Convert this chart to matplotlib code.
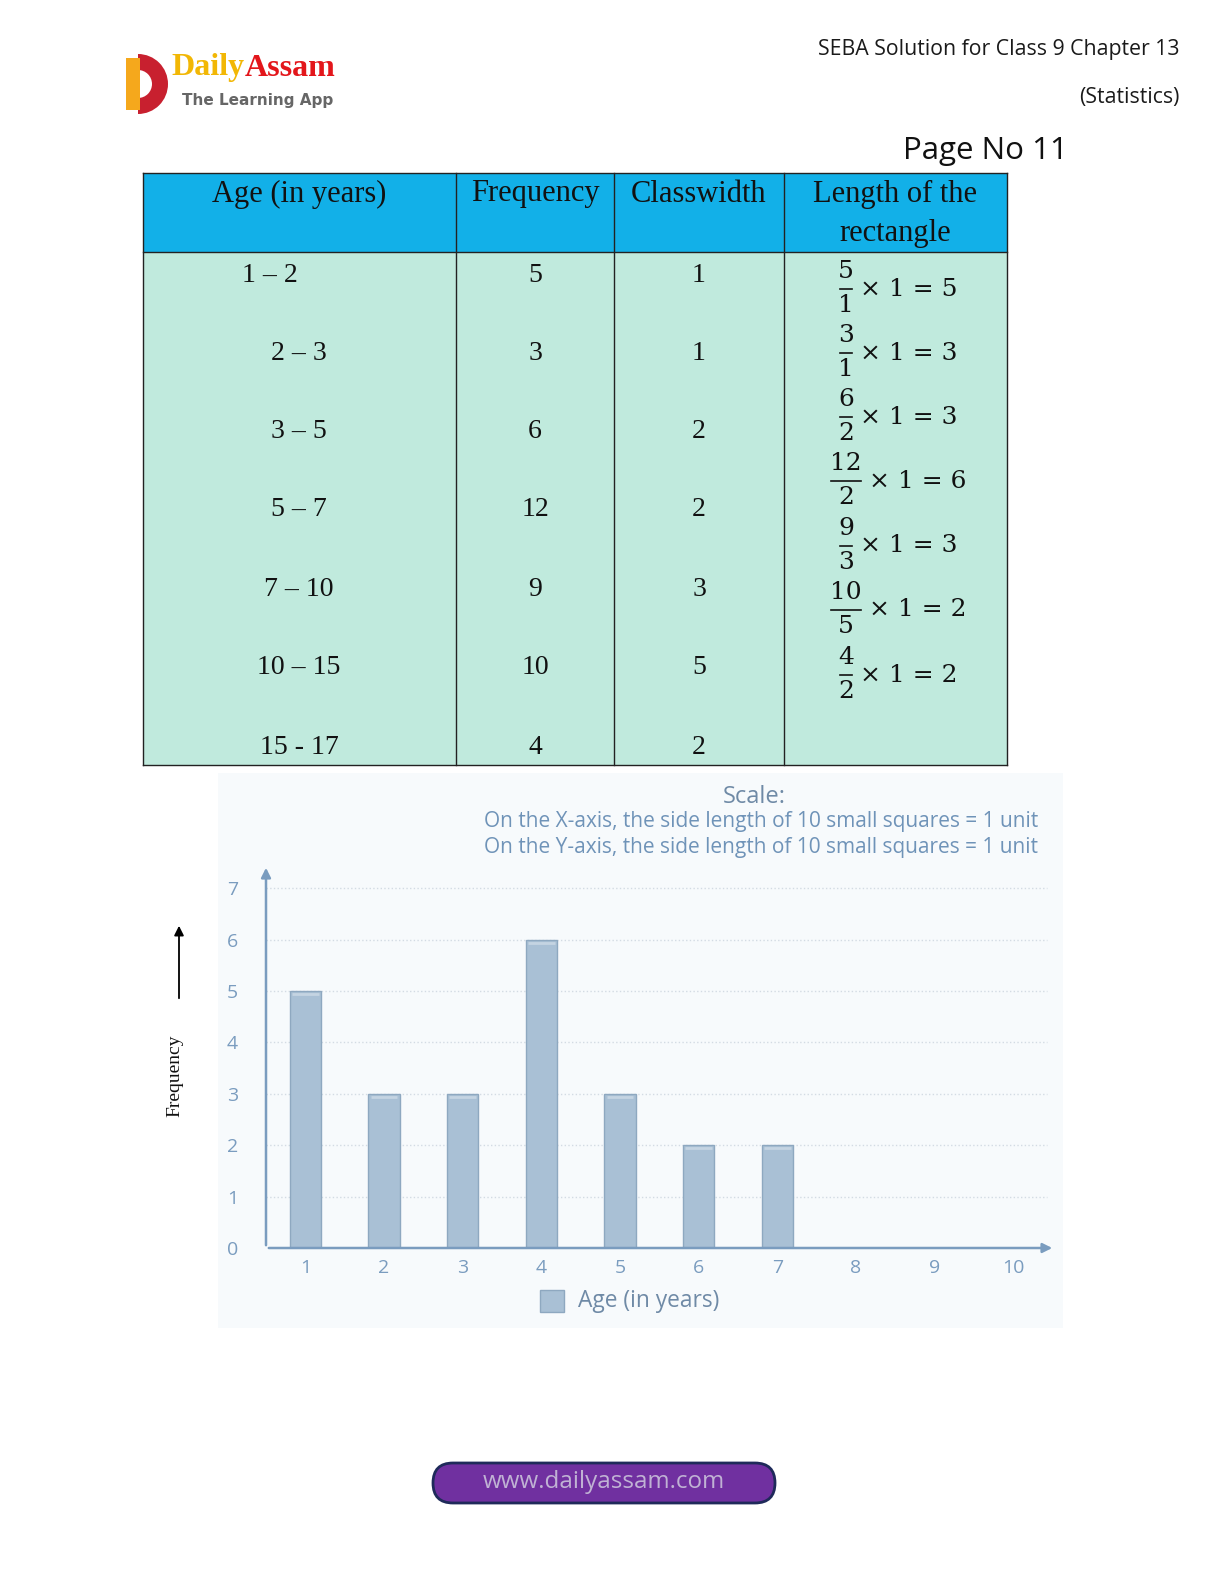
import numpy as np
import matplotlib
matplotlib.use("Agg")
import matplotlib.pyplot as plt
from matplotlib.patches import Rectangle, FancyBboxPatch, Wedge

# table data
age_groups = ["1 – 2", "2 – 3", "3 – 5", "5 – 7", "7 – 10", "10 – 15", "15 - 17"]
frequency = [5, 3, 6, 12, 9, 10, 4]
class_width = [1, 1, 2, 2, 3, 5, 2]
frac_num = [5, 3, 6, 12, 9, 10, 4]
frac_den = [1, 1, 2, 2, 3, 5, 2]
rect_length = [5, 3, 3, 6, 3, 2, 2]
headers = [["Age (in years)"], ["Frequency"], ["Classwidth"], ["Length of the", "rectangle"]]

# histogram data
bar_pos = [1, 2, 3, 4, 5, 6, 7]
bar_height = [5, 3, 3, 6, 3, 2, 2]
x_ticks = [1, 2, 3, 4, 5, 6, 7, 8, 9, 10]
y_ticks = [0, 1, 2, 3, 4, 5, 6, 7]

W, H = 1224, 1584
fig = plt.figure(figsize=(W / 100, H / 100), dpi=100)
fig.patch.set_facecolor("white")

page = fig.add_axes([0, 0, 1, 1])
page.set_xlim(0, W)
page.set_ylim(H, 0)
page.axis("off")

serif = "Liberation Serif"
sans = "Open Sans"
renderer = fig.canvas.get_renderer()

# ---- logo
page.add_patch(Wedge((138, 84), 30, -90, 90, facecolor="#c8202f", edgecolor="none"))
page.add_patch(Wedge((138, 84), 14, -90, 90, facecolor="white", edgecolor="none"))
page.add_patch(Rectangle((126, 58), 14, 52, facecolor="#f5a81c", edgecolor="none"))
t = page.text(171, 68, "Daily", color="#f2b705", fontsize=23, fontweight="bold",
              family=serif, va="center", ha="left")
bb = t.get_window_extent(renderer)
x_end = page.transData.inverted().transform((bb.x1, bb.y0))[0]
page.text(x_end + 1, 68, "Assam", color="#e3161b", fontsize=23,
          fontweight="bold", family=serif, va="center", ha="left")
page.text(182, 100, "The Learning App", color="#666666", fontsize=11,
          fontweight="bold", family="DejaVu Sans", va="center", ha="left")

# ---- top-right header
page.text(1180, 49, "SEBA Solution for Class 9 Chapter 13", fontsize=15.3,
          family=sans, ha="right", va="center", color="#1a1a1a")
page.text(1180, 97, "(Statistics)", fontsize=15.3, family=sans, ha="right",
          va="center", color="#1a1a1a")
page.text(1068, 151, "Page No 11", fontsize=22.5, family=sans, ha="right",
          va="center", color="#111111")

# ---- table
col_x = [143, 456, 614, 784, 1007]
head_top, head_bot, tab_bot = 173, 252, 765
page.add_patch(Rectangle((col_x[0], head_top), col_x[-1] - col_x[0], head_bot - head_top,
                         facecolor="#12b0e8", edgecolor="none"))
page.add_patch(Rectangle((col_x[0], head_bot), col_x[-1] - col_x[0], tab_bot - head_bot,
                         facecolor="#c0eadd", edgecolor="none"))
for xc in col_x:
    page.plot([xc, xc], [head_top, tab_bot], color="#222222", lw=1)
for yc in [head_top, head_bot, tab_bot]:
    page.plot([col_x[0], col_x[-1]], [yc, yc], color="#222222", lw=1)

head_cx = [299, 535, 699, 895]
for cx, lines in zip(head_cx, headers):
    for k, line in enumerate(lines):
        page.text(cx, 194 + 40 * k, line, fontsize=22, family=serif, ha="center",
                  va="center", color="#111111")

row_y = [275, 353, 432, 510, 590, 668, 747]
age_x = [270, 299, 299, 299, 299, 299, 299]
for i in range(len(age_groups)):
    page.text(age_x[i], row_y[i], age_groups[i], fontsize=20, family=serif,
              ha="center", va="center", color="#111111")
    page.text(535, row_y[i], str(frequency[i]), fontsize=20, family=serif,
              ha="center", va="center", color="#111111")
    page.text(699, row_y[i], str(class_width[i]), fontsize=20, family=serif,
              ha="center", va="center", color="#111111")

frac_y = [289, 353, 417, 481, 546, 610, 675]
for i in range(len(frac_num)):
    yc = frac_y[i]
    half = 15 if frac_num[i] >= 10 else 6
    cx = 846
    page.plot([cx - half, cx + half], [yc, yc], color="#111111", lw=1.2)
    page.text(cx, yc - 6, str(frac_num[i]), fontsize=18, family="DejaVu Serif",
              ha="center", va="bottom", color="#111111")
    page.text(cx, yc + 5, str(frac_den[i]), fontsize=18, family="DejaVu Serif",
              ha="center", va="top", color="#111111")
    page.text(cx + half + 8, yc, "× 1 = %d" % rect_length[i], fontsize=18,
              family="DejaVu Serif", ha="left", va="center", color="#111111")

# ---- chart panel
page.add_patch(Rectangle((218, 773), 845, 555, facecolor="#f7fafc", edgecolor="none"))
scale_col = "#6f93b8"
page.text(754, 797, "Scale:", fontsize=17, family=sans, ha="center", va="center",
          color="#6f8aa6")
page.text(1038, 822, "On the X-axis, the side length of 10 small squares = 1 unit",
          fontsize=15, family=sans, ha="right", va="center", color=scale_col)
page.text(1038, 848, "On the Y-axis, the side length of 10 small squares = 1 unit",
          fontsize=15, family=sans, ha="right", va="center", color=scale_col)

# frequency label with arrow
page.text(175, 1076, "Frequency", rotation=90, fontsize=14, family=serif,
          ha="center", va="center", color="#111111")
page.annotate("", xy=(179, 923), xytext=(179, 1001),
              arrowprops=dict(arrowstyle="-|>", color="black", lw=1.3, mutation_scale=14))

# legend
page.add_patch(Rectangle((540, 1290), 24, 22, facecolor="#a9c0d5", edgecolor="#8ea8c0"))
page.text(578, 1301, "Age (in years)", fontsize=16.4, family=sans, ha="left",
          va="center", color="#6f8aa6")

# footer
page.add_patch(FancyBboxPatch((433, 1463), 342, 40,
                              boxstyle="round,pad=0,rounding_size=20",
                              facecolor="#7030a0", edgecolor="#1f2a5a", lw=2))
page.text(604, 1482, "www.dailyassam.com", fontsize=17.4, family=sans, ha="center",
          va="center", color="#c0b2d4")

# ---- bar chart axes
x0, x1 = 0.5, 10.53
y0, y1 = 0, 7.45
px_l, px_r, px_b, px_t = 266, 1055, 1248, 865
ax = fig.add_axes([px_l / W, (H - px_b) / H, (px_r - px_l) / W, (px_b - px_t) / H])
ax.set_facecolor("none")
ax.set_xlim(x0, x1)
ax.set_ylim(y0, y1)
for s in ax.spines.values():
    s.set_visible(False)

ax.hlines(y_ticks[1:], x0, 10.43, colors="#d3dbe3", linestyles=":", lw=1)
ax.bar(bar_pos, bar_height, width=0.4, color="#a9c0d5", edgecolor="#8ea8c0",
       lw=1, zorder=3)
# light highlight line near the top of each bar
ax.hlines(np.array(bar_height) - 0.06, np.array(bar_pos) - 0.17,
          np.array(bar_pos) + 0.17, colors="#c4d4e2", lw=2, zorder=4)
axis_col = "#7a9cbf"
ax.annotate("", xy=(x1, 0), xytext=(x0, 0),
            arrowprops=dict(arrowstyle="-|>", color=axis_col, lw=1.8, mutation_scale=14),
            zorder=5)
ax.annotate("", xy=(x0, y1), xytext=(x0, 0),
            arrowprops=dict(arrowstyle="-|>", color=axis_col, lw=1.8, mutation_scale=14),
            zorder=5)

ax.set_xticks(x_ticks)
ax.set_yticks(y_ticks)
ax.tick_params(length=0, labelcolor="#7a9cbf", labelsize=14)
ax.tick_params(axis="x", pad=8)
ax.tick_params(axis="y", pad=20)
for lab in ax.get_xticklabels() + ax.get_yticklabels():
    lab.set_family(sans)

fig.savefig("out.png", dpi=100, facecolor="white")
